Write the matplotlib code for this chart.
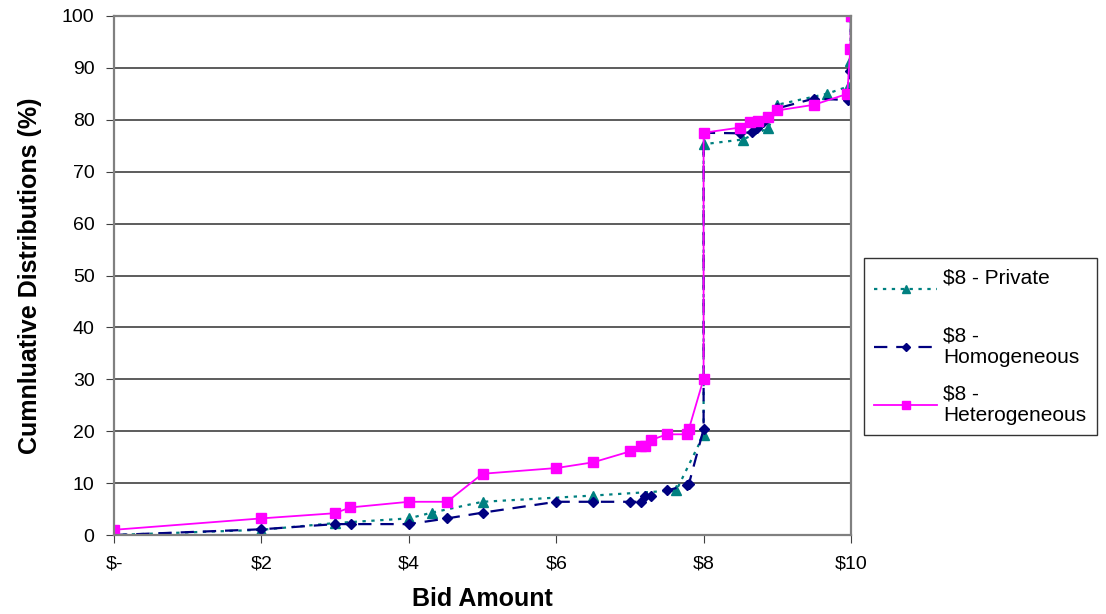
import numpy as np
import matplotlib
matplotlib.use("Agg")
import matplotlib.pyplot as plt
from matplotlib.ticker import FixedLocator

plt.rcParams["font.family"] = ["Liberation Sans", "DejaVu Sans"]

# Cumulative distribution of bids, one series per treatment
private_bid = [0, 2.0, 3.0, 4.0, 4.31, 5.0, 6.5, 7.63, 8.0, 8.0, 8.53, 8.88, 9.0, 9.67, 9.96, 9.99, 10.0]
private_pct = [0, 1.0, 2.3, 3.2, 4.3, 6.4, 7.6, 8.6, 19.3, 75.3, 76.2, 78.4, 82.9, 85.0, 86.4, 91.4, 100]

homog_bid = [0, 2.0, 3.0, 3.22, 4.0, 4.52, 5.0, 6.0, 6.5, 7.0, 7.15, 7.2, 7.29, 7.51, 7.77, 7.8,
             8.0, 8.0, 8.49, 8.65, 8.72, 8.8, 9.0, 9.5, 9.96, 9.99, 10.0]
homog_pct = [0, 1.1, 2.1, 2.1, 2.1, 3.2, 4.3, 6.4, 6.4, 6.4, 6.4, 7.5, 7.5, 8.6, 9.6, 9.8,
             20.4, 77.5, 77.4, 77.6, 78.5, 79.5, 82.2, 84.1, 83.8, 89.4, 100]

heter_bid = [0, 2.0, 3.0, 3.2, 4.0, 4.52, 5.0, 6.0, 6.5, 7.0, 7.15, 7.2, 7.29, 7.5, 7.77, 7.8,
             8.0, 8.0, 8.49, 8.63, 8.74, 8.88, 9.0, 9.5, 9.95, 9.99, 10.0]
heter_pct = [1.0, 3.2, 4.2, 5.3, 6.4, 6.4, 11.8, 12.9, 14.0, 16.1, 17.2, 17.2, 18.3, 19.4, 19.4, 20.4,
             30.1, 77.5, 78.5, 79.6, 79.8, 80.6, 81.8, 82.9, 85.0, 93.6, 100]

x_ticks = [0, 2, 4, 6, 8, 10]
x_tick_labels = ["$-", "$2", "$4", "$6", "$8", "$10"]
y_ticks = list(range(0, 101, 10))

fig = plt.figure(figsize=(11.06, 6.14), dpi=100)
ax = fig.add_axes([114 / 1106, 79 / 614, 737 / 1106, 519 / 614])

ax.plot(private_bid, private_pct, color="#008080", linestyle=(0, (1.5, 2.5)), linewidth=1.6,
        marker="^", markersize=7, label="$8 - Private\n ")
ax.plot(homog_bid, homog_pct, color="#000080", linestyle=(0, (6, 4)), linewidth=1.6,
        marker="D", markersize=5.5, label="$8 -\nHomogeneous")
ax.plot(heter_bid, heter_pct, color="#FF00FF", linestyle="-", linewidth=1.3,
        marker="s", markersize=7, label="$8 -\nHeterogeneous")

ax.set_xlim(0, 10)
ax.set_ylim(0, 100)
ax.xaxis.set_major_locator(FixedLocator(x_ticks))
ax.set_xticklabels(x_tick_labels, fontsize=14)
ax.yaxis.set_major_locator(FixedLocator(y_ticks))
ax.tick_params(axis="both", direction="out", length=6, color="#404040")
ax.tick_params(axis="y", labelsize=14, pad=8)
ax.tick_params(axis="x", pad=9)

ax.yaxis.grid(True, color="#303030", linewidth=1.1)
ax.set_axisbelow(True)
for side in ("left", "bottom", "right", "top"):
    ax.spines[side].set_color("#808080")
    ax.spines[side].set_linewidth(1.6)

ax.set_xlabel("Bid Amount", fontsize=18, fontweight="bold", labelpad=10)
ax.set_ylabel("Cumnluative Distributions (%)", fontsize=18, fontweight="bold", labelpad=14)

leg = ax.legend(loc="upper left", bbox_to_anchor=(864 / 1106, 356 / 614),
                bbox_transform=fig.transFigure, borderaxespad=0, fontsize=15, frameon=True,
                fancybox=False, edgecolor="black", handlelength=3.0, handletextpad=0.3,
                labelspacing=0.85, borderpad=0.5, markerscale=0.8)
leg.get_frame().set_linewidth(1.0)
for t in leg.get_texts():
    t.set_linespacing(1.15)

fig.savefig("out.png", dpi=100)
